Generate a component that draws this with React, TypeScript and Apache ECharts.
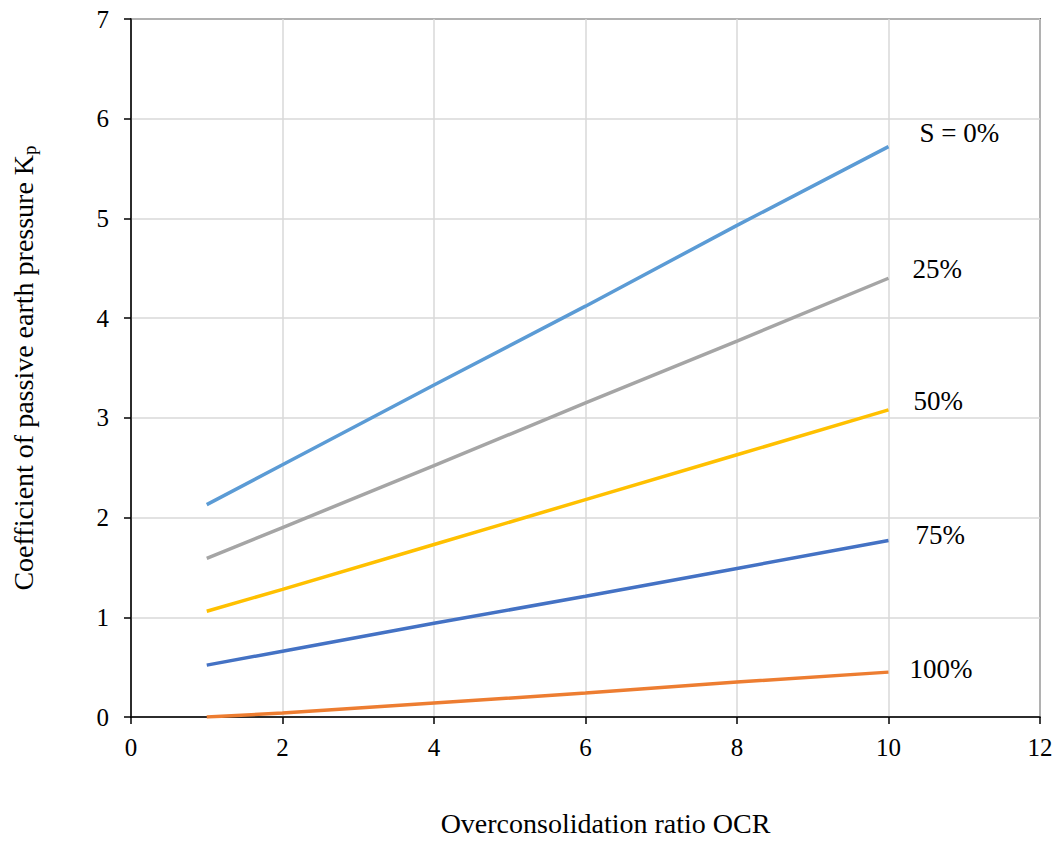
import React, { useEffect, useRef } from "react";
import * as echarts from "echarts";

const ocr = [1, 2, 4, 6, 8, 10];
const s0 = [2.13, 2.53, 3.33, 4.12, 4.93, 5.72];
const s25 = [1.59, 1.9, 2.52, 3.15, 3.77, 4.4];
const s50 = [1.06, 1.28, 1.73, 2.18, 2.63, 3.08];
const s75 = [0.52, 0.66, 0.94, 1.21, 1.49, 1.77];
const s100 = [0.0, 0.04, 0.14, 0.24, 0.35, 0.45];
const seriesNames = ["S = 0%", "25%", "50%", "75%", "100%"];
const seriesValues = [s0, s25, s50, s75, s100];
const colors = ["#5B9BD5", "#A5A5A5", "#FFC000", "#4472C4", "#ED7D31"];
const labelOffsets = [
  [31, -14],
  [24, -9],
  [25, -9],
  [27, -6],
  [21, -3],
];

const FONT = "Liberation Serif, Times New Roman, serif";

export default function App() {
  const ref = useRef<HTMLDivElement>(null);
  useEffect(() => {
    if (!ref.current) return;
    const chart = echarts.init(ref.current, undefined, { renderer: "svg" });
    chart.setOption({
      animation: false,
      backgroundColor: "#ffffff",
      textStyle: { fontFamily: FONT },
      grid: {
        left: 131,
        right: 19,
        top: 19,
        bottom: 121,
        show: true,
        borderColor: "#000",
        borderWidth: 1.5,
      },
      xAxis: {
        type: "value",
        min: 0,
        max: 12,
        interval: 2,
        name: "Overconsolidation ratio OCR",
        nameLocation: "middle",
        nameGap: 92,
        nameTextStyle: { fontFamily: FONT, fontSize: 28, color: "#000", padding: [0, 0, 0, 40] },
        axisLine: { show: true, lineStyle: { color: "#000", width: 1.5 } },
        axisTick: { show: true, inside: false, length: 7, lineStyle: { color: "#000", width: 1.5 } },
        axisLabel: { fontFamily: FONT, fontSize: 25, color: "#000", margin: 18 },
        splitLine: { show: true, lineStyle: { color: "#d9d9d9", width: 1.5 } },
      },
      yAxis: {
        type: "value",
        min: 0,
        max: 7,
        interval: 1,
        name: "Coefficient of passive earth pressure K{sub|p}",
        nameLocation: "middle",
        nameGap: 92,
        nameRotate: 90,
        nameTextStyle: {
          fontFamily: FONT,
          fontSize: 28,
          color: "#000",
          rich: {
            sub: { fontFamily: FONT, fontSize: 19, color: "#000", verticalAlign: "bottom", padding: [12, 0, 0, 0] },
          },
        },
        axisLine: { show: true, lineStyle: { color: "#000", width: 1.5 } },
        axisTick: { show: true, inside: false, length: 7, lineStyle: { color: "#000", width: 1.5 } },
        axisLabel: { fontFamily: FONT, fontSize: 25, color: "#000", margin: 22 },
        splitLine: { show: true, lineStyle: { color: "#d9d9d9", width: 1.5 } },
      },
      series: seriesNames.map((name, i) => ({
        name,
        type: "line",
        data: ocr.map((x, j) => [x, seriesValues[i][j]]),
        showSymbol: false,
        symbol: "none",
        lineStyle: { color: colors[i], width: 3.5 },
        itemStyle: { color: colors[i] },
        endLabel: {
          show: true,
          formatter: name,
          distance: 0,
          offset: labelOffsets[i],
          fontFamily: FONT,
          fontSize: 27,
          color: "#000",
        },
      })),
    });
    return () => chart.dispose();
  }, []);
  return (
    <div
      ref={ref}
      style={{ position: "fixed", left: 0, top: 0, width: 1059, height: 842 }}
    />
  );
}
